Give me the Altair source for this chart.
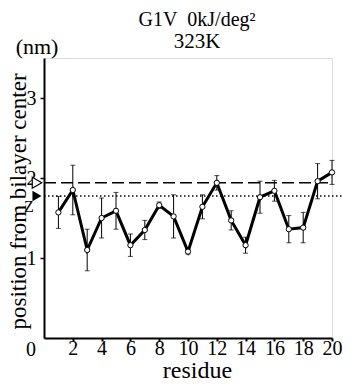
import altair as alt
import pandas as pd

residue = list(range(1, 21))
position = [1.57, 1.85, 1.10, 1.50, 1.59, 1.16, 1.35, 1.66, 1.52, 1.08,
            1.64, 1.94, 1.47, 1.16, 1.76, 1.84, 1.36, 1.38, 1.96, 2.07]
error = [0.20, 0.31, 0.26, 0.25, 0.23, 0.14, 0.12, 0.04, 0.27, 0.03,
         0.15, 0.09, 0.12, 0.10, 0.20, 0.13, 0.17, 0.19, 0.22, 0.15]
x_ticks = [2, 4, 6, 8, 10, 12, 14, 16, 18, 20]
y_ticks = [1, 2, 3]
dashed_level = 1.94
dotted_level = 1.775
dashed_end = 20
dotted_end = 20.75
title_lines = ["G1V\u00a0\u00a00kJ/deg²", "323K"]

FONT = "Liberation Serif"

df = pd.DataFrame({"residue": residue, "pos": position, "err": error})
df["lo"] = df["pos"] - df["err"]
df["hi"] = df["pos"] + df["err"]

xs = alt.Scale(domain=[0, 20], nice=False, zero=False)
ys = alt.Scale(domain=[0, 3.5], nice=False)

xaxis = alt.Axis(values=x_ticks, title="residue", grid=False, format="d",
                 labelOverlap=False, labelFlush=False,
                 labelFont=FONT, labelFontSize=20, labelColor="black",
                 labelPadding=-3, tickSize=3, tickWidth=2, tickColor="black",
                 domainColor="black", domainWidth=2,
                 titleFont=FONT, titleFontSize=24, titleFontWeight="normal",
                 titleColor="black", titleX=153, titleY=32,
                 titleBaseline="middle", titleAlign="center")
yaxis = alt.Axis(values=y_ticks, title="position from bilayer center", grid=False,
                 format="d", labelOverlap=False, labelFlush=False,
                 labelFont=FONT, labelFontSize=20, labelColor="black",
                 labelPadding=4, tickSize=4, tickWidth=1.5, tickColor="black",
                 domainColor="black", domainWidth=2,
                 titleFont=FONT, titleFontSize=23, titleFontWeight="normal",
                 titleColor="black", titleX=-26, titleY=143, titleAngle=270,
                 titleAlign="center", titleBaseline="middle")


def X(field):
    return alt.X(field, scale=xs, axis=xaxis)


def Y(field):
    return alt.Y(field, scale=ys, axis=yaxis)


base = alt.Chart(df)

errbars = base.mark_rule(color="black", strokeWidth=1).encode(
    x=X("residue:Q"), y=Y("lo:Q"), y2="hi:Q")
cap_lo = base.mark_tick(color="black", orient="horizontal", size=5, thickness=1).encode(
    x=X("residue:Q"), y=Y("lo:Q"))
cap_hi = base.mark_tick(color="black", orient="horizontal", size=5, thickness=1).encode(
    x=X("residue:Q"), y=Y("hi:Q"))

refs = pd.DataFrame({"level": [dashed_level, dotted_level],
                     "start": [0, 0], "end": [dashed_end, dotted_end],
                     "kind": ["dashed", "dotted"]})
dashed = alt.Chart(refs[refs.kind == "dashed"]).mark_rule(
    color="black", strokeWidth=1.5, strokeDash=[12, 5], clip=False).encode(
    x=X("start:Q"), x2="end:Q", y=Y("level:Q"))
dotted = alt.Chart(refs[refs.kind == "dotted"]).mark_rule(
    color="black", strokeWidth=1.5, strokeDash=[1.5, 2.5], clip=False).encode(
    x=X("start:Q"), x2="end:Q", y=Y("level:Q"))

tri_open = alt.Chart(refs[refs.kind == "dashed"]).mark_point(
    shape="triangle-right", size=120, filled=True, fill="white", stroke="black",
    strokeWidth=1.2, opacity=1, xOffset=-7, clip=False).encode(
    x=X("start:Q"), y=Y("level:Q"))
tri_fill = alt.Chart(refs[refs.kind == "dotted"]).mark_point(
    shape="triangle-right", size=110, filled=True, color="black",
    opacity=1, xOffset=-7, clip=False).encode(
    x=X("start:Q"), y=Y("level:Q"))

line = base.mark_line(color="black", strokeWidth=3).encode(
    x=X("residue:Q"), y=Y("pos:Q"))
pts = base.mark_point(shape="circle", size=28, filled=True, fill="white",
                      stroke="black", strokeWidth=1, opacity=1).encode(
    x=X("residue:Q"), y=Y("pos:Q"))

labels = pd.DataFrame({"x": [0, 0, 0], "y": [0, 3.5, dotted_level],
                       "t": ["0", "(nm)", "Z"]})
zero_lbl = alt.Chart(labels.iloc[[0]]).mark_text(
    font=FONT, fontSize=20, color="black", dx=-13, dy=12, clip=False).encode(
    x=X("x:Q"), y=Y("y:Q"), text="t:N")
nm_lbl = alt.Chart(labels.iloc[[1]]).mark_text(
    font=FONT, fontSize=22, color="black", dx=-7, dy=-11, clip=False).encode(
    x=X("x:Q"), y=Y("y:Q"), text="t:N")
z_lbl = alt.Chart(labels.iloc[[2]]).mark_text(
    font=FONT, fontSize=16, color="black", dx=-15, dy=11, clip=False).encode(
    x=X("x:Q"), y=Y("y:Q"), text="t:N")

titles = pd.DataFrame({"t": title_lines})
title1 = alt.Chart(titles.iloc[[0]]).mark_text(
    font=FONT, fontSize=20, color="black", baseline="middle", align="center",
    clip=False).encode(x=alt.value(153), y=alt.value(-38), text="t:N")
title2 = alt.Chart(titles.iloc[[1]]).mark_text(
    font=FONT, fontSize=21, color="black", baseline="middle", align="center",
    clip=False).encode(x=alt.value(153), y=alt.value(-16), text="t:N")

chart = alt.layer(errbars, cap_lo, cap_hi, dashed, dotted, line, pts,
                  tri_open, tri_fill, zero_lbl, nm_lbl, z_lbl,
                  title1, title2).properties(
    width=288, height=280,
    autosize=alt.AutoSizeParams(type="none"),
    padding={"left": 36, "top": 50, "right": 15, "bottom": 43},
).configure_view(strokeWidth=0).configure_axis(labelOverlap=False).configure(
    background="white")

chart.save("out.html", embed_options={"renderer": "svg", "actions": False})
